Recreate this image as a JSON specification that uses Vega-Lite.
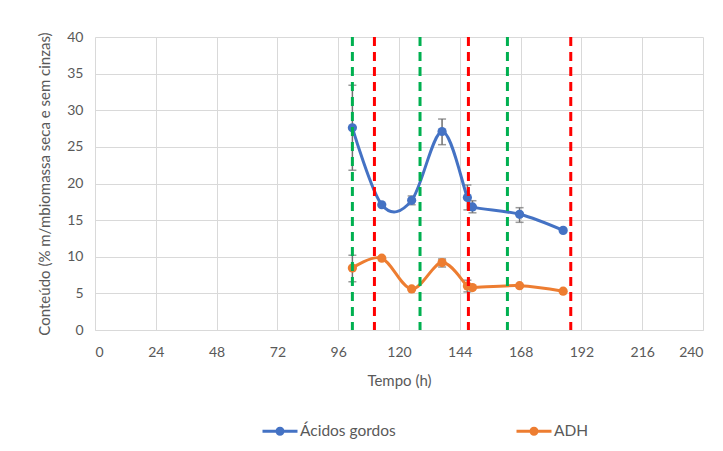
{
  "$schema": "https://vega.github.io/schema/vega-lite/v6.json",
  "autosize": {"type": "none"},
  "width": 608,
  "height": 293,
  "padding": {"left": 95, "top": 37, "right": 20, "bottom": 121},
  "background": "white",
  "config": {
    "font": "Lato",
    "view": {"stroke": null},
    "axis": {
      "labelFont": "Lato", "titleFont": "Lato",
      "labelColor": "#595959", "titleColor": "#595959",
      "labelFontSize": 14, "titleFontSize": 15, "titleFontWeight": "normal",
      "gridColor": "#d9d9d9", "gridWidth": 1, "ticks": false
    },
    "legend": {"labelFont": "Lato", "labelFontSize": 15.5, "labelColor": "#595959"}
  },
  "datasets": {
    "series": [
      {"t": 101.6, "serie": "Ácidos gordos", "valor": 27.6},
      {"t": 113.2, "serie": "Ácidos gordos", "valor": 17.1},
      {"t": 125.0, "serie": "Ácidos gordos", "valor": 17.7},
      {"t": 137.0, "serie": "Ácidos gordos", "valor": 27.1},
      {"t": 147.0, "serie": "Ácidos gordos", "valor": 18.1},
      {"t": 149.0, "serie": "Ácidos gordos", "valor": 16.8},
      {"t": 167.6, "serie": "Ácidos gordos", "valor": 15.8},
      {"t": 184.8, "serie": "Ácidos gordos", "valor": 13.6},
      {"t": 101.6, "serie": "ADH", "valor": 8.45},
      {"t": 113.2, "serie": "ADH", "valor": 9.8},
      {"t": 125.0, "serie": "ADH", "valor": 5.6},
      {"t": 137.0, "serie": "ADH", "valor": 9.2},
      {"t": 147.0, "serie": "ADH", "valor": 6.0},
      {"t": 149.0, "serie": "ADH", "valor": 5.8},
      {"t": 167.6, "serie": "ADH", "valor": 6.05},
      {"t": 184.8, "serie": "ADH", "valor": 5.3}
    ],
    "erros": [
      {"t": 101.6, "lo": 21.8, "hi": 33.4},
      {"t": 125.0, "lo": 17.1, "hi": 18.3},
      {"t": 137.0, "lo": 25.3, "hi": 28.8},
      {"t": 147.0, "lo": 16.4, "hi": 19.8},
      {"t": 149.0, "lo": 16.0, "hi": 17.65},
      {"t": 167.6, "lo": 14.7, "hi": 16.7},
      {"t": 101.6, "lo": 6.6, "hi": 10.2},
      {"t": 137.0, "lo": 8.6, "hi": 9.7},
      {"t": 147.0, "lo": 5.2, "hi": 6.8}
    ],
    "linhas": [
      {"t": 101.6, "tipo": "verde"},
      {"t": 128.3, "tipo": "verde"},
      {"t": 162.8, "tipo": "verde"},
      {"t": 110.3, "tipo": "vermelho"},
      {"t": 147.4, "tipo": "vermelho"},
      {"t": 187.8, "tipo": "vermelho"}
    ]
  },
  "layer": [
    {
      "data": {"name": "erros"},
      "mark": {"type": "errorbar", "ticks": {"size": 8, "thickness": 1.5, "color": "#6f6f6f"}, "rule": {"color": "#6f6f6f", "strokeWidth": 1.5}},
      "encoding": {
        "x": {"field": "t", "type": "quantitative",
          "scale": {"domain": [0, 240]},
          "axis": {"values": [0, 24, 48, 72, 96, 120, 144, 168, 192, 216, 240], "title": "Tempo (h)", "labelPadding": 15, "titlePadding": 14, "domainColor": "#d9d9d9", "grid": true}},
        "y": {"field": "lo", "type": "quantitative",
          "scale": {"domain": [0, 40]},
          "axis": {"values": [0, 5, 10, 15, 20, 25, 30, 35, 40], "title": "Conteúdo (% m/mbiomassa seca e sem cinzas)", "labelPadding": 12, "titlePadding": 14, "domain": false, "grid": true}},
        "y2": {"field": "hi"}
      }
    },
    {
      "data": {"name": "series"},
      "mark": {"type": "line", "interpolate": "cardinal", "strokeWidth": 3},
      "encoding": {
        "x": {"field": "t", "type": "quantitative",
          "scale": {"domain": [0, 240]},
          "axis": {"values": [0, 24, 48, 72, 96, 120, 144, 168, 192, 216, 240], "title": "Tempo (h)", "labelPadding": 15, "titlePadding": 14, "domainColor": "#d9d9d9", "grid": true}},
        "y": {"field": "valor", "type": "quantitative",
          "scale": {"domain": [0, 40]},
          "axis": {"values": [0, 5, 10, 15, 20, 25, 30, 35, 40], "title": "Conteúdo (% m/mbiomassa seca e sem cinzas)", "labelPadding": 12, "titlePadding": 14, "domain": false, "grid": true}},
        "color": {"field": "serie", "type": "nominal",
          "scale": {"domain": ["Ácidos gordos", "ADH"], "range": ["#4472C4", "#ED7D31"]},
          "legend": {"title": null, "orient": "none", "direction": "horizontal", "legendX": 175, "legendY": 384,
            "symbolType": "M -1.75 -0.15 L 1.75 -0.15 L 1.75 0.15 L -1.75 0.15 Z M 0.45 0 A 0.45 0.45 0 1 1 -0.45 0 A 0.45 0.45 0 1 1 0.45 0 Z",
            "symbolSize": 400, "symbolStrokeWidth": 0, "labelOffset": 10, "columnPadding": 120}}
      }
    },
    {
      "data": {"name": "series"},
      "mark": {"type": "point", "filled": true, "size": 85, "opacity": 1},
      "encoding": {
        "x": {"field": "t", "type": "quantitative",
          "scale": {"domain": [0, 240]},
          "axis": {"values": [0, 24, 48, 72, 96, 120, 144, 168, 192, 216, 240], "title": "Tempo (h)", "labelPadding": 15, "titlePadding": 14, "domainColor": "#d9d9d9", "grid": true}},
        "y": {"field": "valor", "type": "quantitative",
          "scale": {"domain": [0, 40]},
          "axis": {"values": [0, 5, 10, 15, 20, 25, 30, 35, 40], "title": "Conteúdo (% m/mbiomassa seca e sem cinzas)", "labelPadding": 12, "titlePadding": 14, "domain": false, "grid": true}},
        "color": {"field": "serie", "type": "nominal",
          "scale": {"domain": ["Ácidos gordos", "ADH"], "range": ["#4472C4", "#ED7D31"]},
          "legend": {"title": null, "orient": "none", "direction": "horizontal", "legendX": 175, "legendY": 384,
            "symbolType": "M -1.75 -0.15 L 1.75 -0.15 L 1.75 0.15 L -1.75 0.15 Z M 0.45 0 A 0.45 0.45 0 1 1 -0.45 0 A 0.45 0.45 0 1 1 0.45 0 Z",
            "symbolSize": 400, "symbolStrokeWidth": 0, "labelOffset": 10, "columnPadding": 120}}
      }
    },
    {
      "data": {"name": "linhas"},
      "mark": {"type": "rule", "strokeWidth": 3, "strokeDash": [9, 6]},
      "encoding": {
        "x": {"field": "t", "type": "quantitative",
          "scale": {"domain": [0, 240]},
          "axis": {"values": [0, 24, 48, 72, 96, 120, 144, 168, 192, 216, 240], "title": "Tempo (h)", "labelPadding": 15, "titlePadding": 14, "domainColor": "#d9d9d9", "grid": true}},
        "stroke": {"field": "tipo", "type": "nominal", "legend": null,
          "scale": {"domain": ["verde", "vermelho"], "range": ["#00B050", "#FF0000"]}}
      }
    }
  ]
}
